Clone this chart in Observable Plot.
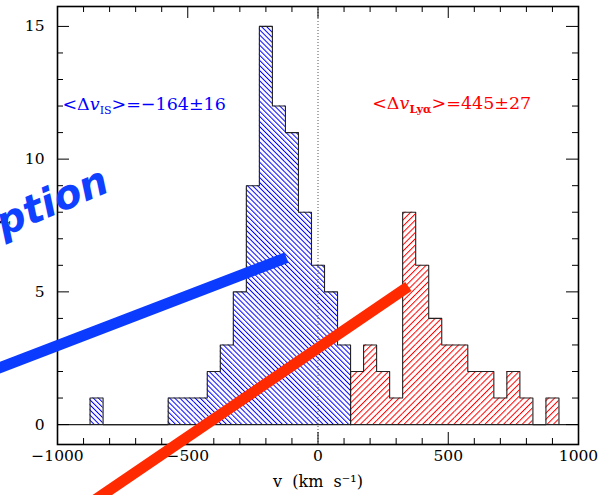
<!DOCTYPE html>
<html><head><meta charset="utf-8">
<script src="https://cdn.jsdelivr.net/npm/d3@7"></script>
<script src="https://cdn.jsdelivr.net/npm/@observablehq/plot@0.6"></script>
<style>body{margin:0;background:#fff}</style>
</head><body><div id="chart"></div>
<script>
// ---- data ----
const binWidth = 50;
const blueCenters = [-850, -800, -750, -700, -650, -600, -550, -500, -450, -400, -350, -300, -250, -200, -150, -100, -50, 0, 50, 100];
const blueCounts  = [1, 0, 0, 0, 0, 0, 1, 1, 1, 2, 3, 5, 9, 15, 12, 11, 8, 6, 5, 3];
const redCenters  = [150, 200, 250, 300, 350, 400, 450, 500, 550, 600, 650, 700, 750, 800, 850, 900];
const redCounts   = [2, 3, 2, 1, 8, 6, 4, 3, 3, 2, 2, 1, 2, 1, 0, 1];

const xTicksMajor = [-1000, -500, 0, 500, 1000];
const xTickLabels = ["−1000", "−500", "0", "500", "1000"];
const xTicksMinor = [-900, -800, -700, -600, -400, -300, -200, -100, 100, 200, 300, 400, 600, 700, 800, 900];
const yTicksMajor = [0, 5, 10, 15];
const yTickLabels = ["0", "5", "10", "15"];
const yTicksMinor = [1, 2, 3, 4, 6, 7, 8, 9, 11, 12, 13, 14];

const labelTexts = ["<Δv_IS>=−164±16", "<Δv_Lyα>=445±27"];
const labelX = [-981, 208];
const labelY = [12.06, 12.09];

// hand-drawn overlay strokes (data units)
const blueStrokeX = [-1296, -121];
const blueStrokeY = [1.86, 6.29];
const redStrokeX = [-916, 347];
const redStrokeY = [-3.24, 5.20];
const captionText = ["Caption"];
const captionX = [-794];
const captionY = [8.8];

// ---- build tables ----
const toBins = (cs, ns) => cs.map((c, i) => ({x1: c - binWidth / 2, x2: c + binWidth / 2, y: ns[i]}));
const outline = (cs, ns) => {
  const pts = [{x: cs[0] - binWidth / 2, y: 0}];
  cs.forEach((c, i) => { pts.push({x: c - binWidth / 2, y: ns[i]}, {x: c + binWidth / 2, y: ns[i]}); });
  pts.push({x: cs[cs.length - 1] + binWidth / 2, y: 0});
  return pts;
};
const blueBins = toBins(blueCenters, blueCounts);
const redBins = toBins(redCenters, redCounts);
const blueStroke = blueStrokeX.map((x, i) => ({x, y: blueStrokeY[i]}));
const redStroke = redStrokeX.map((x, i) => ({x, y: redStrokeY[i]}));
const labels = labelTexts.map((t, i) => ({t, x: labelX[i], y: labelY[i]}));
const caption = captionText.map((t, i) => ({t, x: captionX[i], y: captionY[i]}));

const W = 611, H = 495, mL = 57, mR = 33, mT = 6, mB = 51;
const pw = W - mL - mR, ph = H - mT - mB;

const chart = Plot.plot({
  width: W, height: H,
  marginLeft: mL, marginRight: mR, marginTop: mT, marginBottom: mB,
  style: {fontFamily: "DejaVu Serif", fontSize: "15px", background: "white", overflow: "hidden"},
  x: {domain: [-1000, 1000], axis: null},
  y: {domain: [-0.75, 15.75], axis: null},
  marks: [
    Plot.rectY(blueBins, {x1: "x1", x2: "x2", y: "y", fill: "url(#hatchBlue)"}),
    Plot.rectY(redBins, {x1: "x1", x2: "x2", y: "y", fill: "url(#hatchRed)"}),
    Plot.ruleY([0], {stroke: "#222", strokeWidth: 1.3}),
    Plot.line(outline(blueCenters, blueCounts), {x: "x", y: "y", stroke: "#222", strokeWidth: 1.1}),
    Plot.line(outline(redCenters, redCounts), {x: "x", y: "y", stroke: "#222", strokeWidth: 1.1}),
    Plot.ruleX([0], {stroke: "#555", strokeDasharray: "1,2", strokeWidth: 1}),
    // ticks (inward, all four sides)
    Plot.ruleX(xTicksMajor, {x: d => d, insetTop: ph - 12, stroke: "#000"}),
    Plot.ruleX(xTicksMajor, {x: d => d, insetBottom: ph - 12, stroke: "#000"}),
    Plot.ruleX(xTicksMinor, {x: d => d, insetTop: ph - 6, stroke: "#000"}),
    Plot.ruleX(xTicksMinor, {x: d => d, insetBottom: ph - 6, stroke: "#000"}),
    Plot.ruleY(yTicksMajor, {y: d => d, insetRight: pw - 12, stroke: "#000"}),
    Plot.ruleY(yTicksMajor, {y: d => d, insetLeft: pw - 12, stroke: "#000"}),
    Plot.ruleY(yTicksMinor, {y: d => d, insetRight: pw - 6, stroke: "#000"}),
    Plot.ruleY(yTicksMinor, {y: d => d, insetLeft: pw - 6, stroke: "#000"}),
    Plot.frame({stroke: "#000", strokeWidth: 1.6}),
    // tick labels
    Plot.text(xTicksMajor, {x: d => d, text: (d, i) => xTickLabels[i], frameAnchor: "bottom", dy: 16, fontSize: 15.5, letterSpacing: 1}),
    Plot.text(yTicksMajor, {y: d => d, text: (d, i) => yTickLabels[i], frameAnchor: "left", textAnchor: "end", dx: -13, fontSize: 15.5, letterSpacing: 1}),
    Plot.text(["v  (km  s⁻¹)"], {text: d => d, frameAnchor: "bottom", dy: 42, fontSize: 16, letterSpacing: 1.8}),
    Plot.text(["N"], {text: d => d, frameAnchor: "left", dx: -52, rotate: -90, fontSize: 15}),
    // annotations
    Plot.text(labels, {x: "x", y: "y", text: "t", textAnchor: "start", fontSize: 17.5, letterSpacing: 1}),
    // overlay strokes
    Plot.line(blueStroke, {x: "x", y: "y", stroke: "#0b3bff", strokeWidth: 11, strokeLinecap: "butt"}),
    Plot.line(redStroke, {x: "x", y: "y", stroke: "#ff2a00", strokeWidth: 11, strokeLinecap: "butt"}),
    Plot.text(caption, {x: "x", y: "y", text: "t", textAnchor: "end", lineAnchor: "bottom", rotate: -23,
      fontSize: 40, fontWeight: "bold", fontStyle: "italic", fontFamily: "DejaVu Sans", fill: "#1040ff"})
  ]
});

const svg = d3.select(chart.tagName === "svg" ? chart : chart.querySelector("svg"));

// hatch patterns
const defs = svg.insert("defs", ":first-child");
function hatch(id, color, size, angle) {
  const p = defs.append("pattern").attr("id", id).attr("patternUnits", "userSpaceOnUse")
    .attr("width", size).attr("height", size).attr("patternTransform", `rotate(${angle})`);
  p.append("rect").attr("width", size).attr("height", size).attr("fill", "white");
  p.append("line").attr("x1", 0.5).attr("y1", 0).attr("x2", 0.5).attr("y2", size)
    .attr("stroke", color).attr("stroke-width", 1);
}
hatch("hatchBlue", "#0000ff", 3.6, -45);
hatch("hatchRed", "#ff0000", 4.4, 45);

// subscripts in annotation labels
function richify(plain, color, parts) {
  svg.selectAll("text").filter(function () { return this.textContent === plain; }).each(function () {
    const t = d3.select(this);
    t.attr("fill", color);
    t.text(null);
    for (const p of parts) {
      const s = t.append("tspan").text(p.t);
      if (p.dy) s.attr("dy", p.dy);
      if (p.fs) s.attr("font-size", p.fs);
      if (p.it) s.attr("font-style", "italic");
      if (p.bold) s.attr("font-weight", "bold");
    }
  });
}
richify(labelTexts[0], "#0000ff", [{t: "<Δ"}, {t: "v", it: true}, {t: "IS", dy: 4, fs: 11}, {t: ">=−164±16", dy: -4}]);
richify(labelTexts[1], "#ff0000", [{t: "<Δ"}, {t: "v", it: true}, {t: "Lyα", dy: 4, fs: 11, bold: true}, {t: ">=445±27", dy: -4}]);

document.getElementById("chart").appendChild(chart);
</script>
</body></html>
